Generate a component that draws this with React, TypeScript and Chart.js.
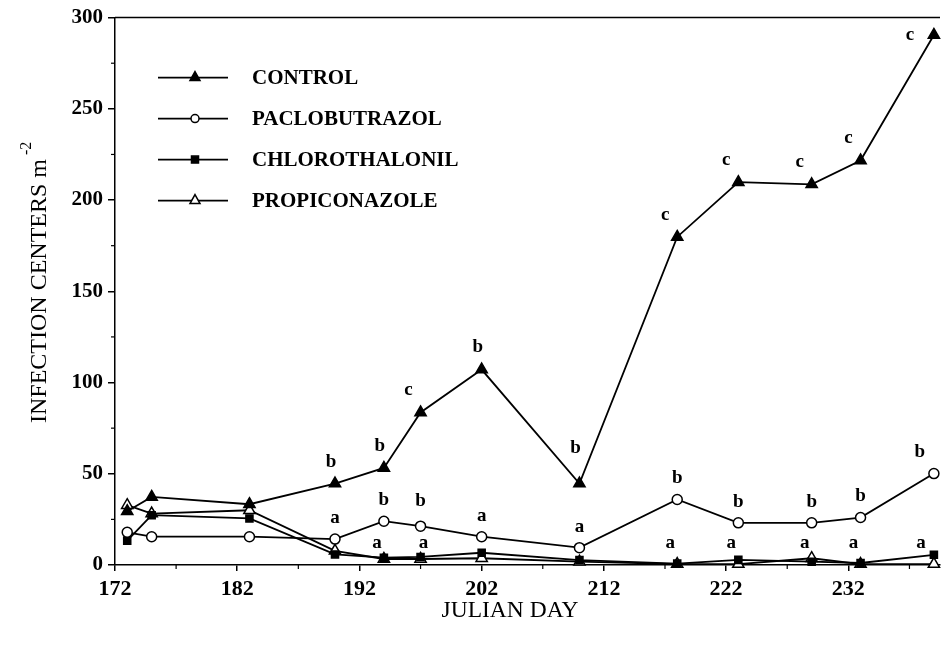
import React, { useEffect, useRef } from 'react';
import { Chart, registerables } from 'chart.js';
Chart.register(...registerables);

// ---- data ----
const days = [173, 175, 183, 190, 194, 197, 202, 210, 218, 223, 229, 233, 239];
const control = [29.5, 37.3, 33.3, 44.6, 53.2, 83.6, 107.1, 44.6, 179.8, 209.8, 208.6, 221.7, 290.5];
const paclobutrazol = [17.9, 15.5, 15.5, 14.2, 24, 21.3, 15.5, 9.5, 35.9, 23.1, 23.1, 26, 50.1];
const chlorothalonil = [13.3, 27.3, 25.5, 5.8, 4, 4.4, 6.7, 2.7, 0.8, 2.8, 1.8, 1.1, 5.6];
const propiconazole = [32.8, 28.2, 30, 7.8, 3.3, 3.3, 3.7, 1.8, 0.5, 0.5, 3.7, 0.5, 0.5];
const controlLetters = ['', '', '', 'b', 'b', 'c', 'b', 'b', 'c', 'c', 'c', 'c', 'c'];
const paclobutrazolLetters = ['', '', '', 'a', 'b', 'b', 'a', 'a', 'b', 'b', 'b', 'b', 'b'];
const fungicideLetters = ['', '', '', '', 'a', 'a', '', '', 'a', 'a', 'a', 'a', 'a'];
const xTicks = [172, 182, 192, 202, 212, 222, 232];
const xMinorTicks = [177, 187, 197, 207, 217, 227, 237];
const yTicks = [0, 50, 100, 150, 200, 250, 300];
const yMinorTicks = [25, 75, 125, 175, 225, 275];
const seriesNames = ['CONTROL', 'PACLOBUTRAZOL', 'CHLOROTHALONIL', 'PROPICONAZOLE'];
const xTitle = 'JULIAN DAY';
const yTitle = 'INFECTION CENTERS m';
const yTitleSup = '-2';

const FONT = '"Liberation Serif", "Times New Roman", serif';

const pointStyles = ['triangle', 'circle', 'rect', 'triangle'];
const pointFills = ['#000', '#fff', '#000', '#fff'];
const pointRadii = [6.5, 5, 5, 6.5];
const seriesValues = [control, paclobutrazol, chlorothalonil, propiconazole];

const decorPlugin = {
  id: 'decor',
  afterDatasetsDraw(chart: any) {
    const { ctx, chartArea, scales } = chart;
    const xs = scales.x;
    const ys = scales.y;
    ctx.save();
    ctx.strokeStyle = '#000';
    ctx.fillStyle = '#000';
    // top border
    ctx.lineWidth = 1.5;
    ctx.beginPath();
    ctx.moveTo(chartArea.left, chartArea.top);
    ctx.lineTo(chartArea.right, chartArea.top);
    ctx.stroke();
    // minor ticks
    ctx.lineWidth = 1.2;
    xMinorTicks.forEach((v) => {
      const px = xs.getPixelForValue(v);
      ctx.beginPath();
      ctx.moveTo(px, chartArea.bottom);
      ctx.lineTo(px, chartArea.bottom + 4);
      ctx.stroke();
    });
    yMinorTicks.forEach((v) => {
      const py = ys.getPixelForValue(v);
      ctx.beginPath();
      ctx.moveTo(chartArea.left, py);
      ctx.lineTo(chartArea.left - 4, py);
      ctx.stroke();
    });

    // significance letters
    ctx.font = `bold 19px ${FONT}`;
    ctx.textAlign = 'center';
    ctx.textBaseline = 'middle';
    days.forEach((d, i) => {
      const px = xs.getPixelForValue(d);
      if (controlLetters[i]) {
        const py = ys.getPixelForValue(control[i]);
        let dx = i >= 5 && i !== 6 && i !== 7 ? -12 : -4;
        let dy = i === 7 ? -36 : -22;
        if (i === 12) { dx = -24; dy = 0; }
        ctx.fillText(controlLetters[i], px + dx, py + dy);
      }
      if (paclobutrazolLetters[i]) {
        const py = ys.getPixelForValue(paclobutrazol[i]);
        const dx = i === 12 ? -14 : 0;
        const dy = i === 5 ? -25 : -21;
        ctx.fillText(paclobutrazolLetters[i], px + dx, py + dy);
      }
      if (fungicideLetters[i]) {
        const py = ys.getPixelForValue(0) - 22;
        const dx = i === 12 ? -13 : i === 5 ? 3 : -7;
        ctx.fillText(fungicideLetters[i], px + dx, py);
      }
    });

    // legend
    seriesNames.forEach((name, i) => {
      const y = chartArea.top + 60 + i * 41;
      const x0 = chartArea.left + 43;
      const x1 = chartArea.left + 113;
      ctx.lineWidth = 1.8;
      ctx.strokeStyle = '#000';
      ctx.beginPath();
      ctx.moveTo(x0, y);
      ctx.lineTo(x1, y);
      ctx.stroke();
      const mx = chartArea.left + 80;
      ctx.lineWidth = 1.5;
      ctx.fillStyle = pointFills[i];
      ctx.beginPath();
      if (pointStyles[i] === 'triangle') {
        ctx.moveTo(mx, y - 6);
        ctx.lineTo(mx + 5, y + 3);
        ctx.lineTo(mx - 5, y + 3);
        ctx.closePath();
      } else if (pointStyles[i] === 'circle') {
        ctx.arc(mx, y, 4, 0, Math.PI * 2);
      } else {
        ctx.rect(mx - 3.5, y - 3.5, 7, 7);
      }
      ctx.fill();
      ctx.stroke();
      ctx.fillStyle = '#000';
      ctx.font = `bold 21px ${FONT}`;
      ctx.textAlign = 'left';
      ctx.textBaseline = 'middle';
      ctx.fillText(name, chartArea.left + 137, y + 1);
    });

    // axis titles
    ctx.font = `23.5px ${FONT}`;
    ctx.textAlign = 'center';
    ctx.textBaseline = 'middle';
    ctx.fillText(xTitle, 510, 611);

    ctx.save();
    ctx.translate(40, 291);
    ctx.rotate(-Math.PI / 2);
    ctx.font = `24px ${FONT}`;
    const w = ctx.measureText(yTitle).width;
    ctx.fillText(yTitle, 0, 0);
    ctx.font = `16px ${FONT}`;
    ctx.textAlign = 'left';
    ctx.fillText(yTitleSup, w / 2 + 4, -13);
    ctx.restore();

    ctx.restore();
  },
};

export default function App() {
  const ref = useRef<HTMLCanvasElement | null>(null);
  useEffect(() => {
    document.body.style.margin = '0';
    const canvas = ref.current;
    if (!canvas) return;
    const chart = new Chart(canvas, {
      type: 'line',
      data: {
        datasets: seriesNames.map((name, k) => ({
          label: name,
          data: days.map((d, i) => ({ x: d, y: seriesValues[k][i] })),
          borderColor: '#000',
          borderWidth: 1.8,
          backgroundColor: pointFills[k],
          pointStyle: pointStyles[k] as any,
          pointRadius: pointRadii[k],
          pointBorderColor: '#000',
          pointBackgroundColor: pointFills[k],
          pointBorderWidth: 1.5,
          tension: 0,
          fill: false,
          clip: false as any,
        })),
      },
      plugins: [decorPlugin],
      options: {
        responsive: false,
        animation: false,
        events: [],
        layout: { padding: { left: 0, top: 16, right: 1, bottom: 0 } },
        plugins: { legend: { display: false }, tooltip: { enabled: false } },
        scales: {
          x: {
            type: 'linear',
            min: 172,
            max: 239.5,
            afterFit: (s: any) => { s.height = 81; },
            afterBuildTicks: (s: any) => { s.ticks = xTicks.map((v) => ({ value: v })); },
            border: { display: true, color: '#000', width: 1.5 },
            grid: { display: true, drawOnChartArea: false, drawTicks: true, tickLength: 6, color: '#000', lineWidth: 1.5 },
            ticks: {
              color: '#000',
              padding: 5,
              maxRotation: 0,
              autoSkip: false,
              font: { family: FONT, size: 22, weight: 'bold' },
              callback: (v: any) => String(v),
            },
          },
          y: {
            type: 'linear',
            min: 0,
            max: 300,
            afterFit: (s: any) => { s.width = 115; },
            afterBuildTicks: (s: any) => { s.ticks = yTicks.map((v) => ({ value: v })); },
            border: { display: true, color: '#000', width: 1.5 },
            grid: { display: true, drawOnChartArea: false, drawTicks: true, tickLength: 7, color: '#000', lineWidth: 1.5 },
            ticks: {
              color: '#000',
              padding: 5,
              autoSkip: false,
              font: { family: FONT, size: 21, weight: 'bold' },
              callback: (v: any) => String(v),
            },
          },
        },
      },
    });
    return () => chart.destroy();
  }, []);
  return (
    <div style={{ width: 948, height: 646, background: '#fff' }}>
      <canvas ref={ref} width={948} height={646} style={{ display: 'block' }} />
    </div>
  );
}
